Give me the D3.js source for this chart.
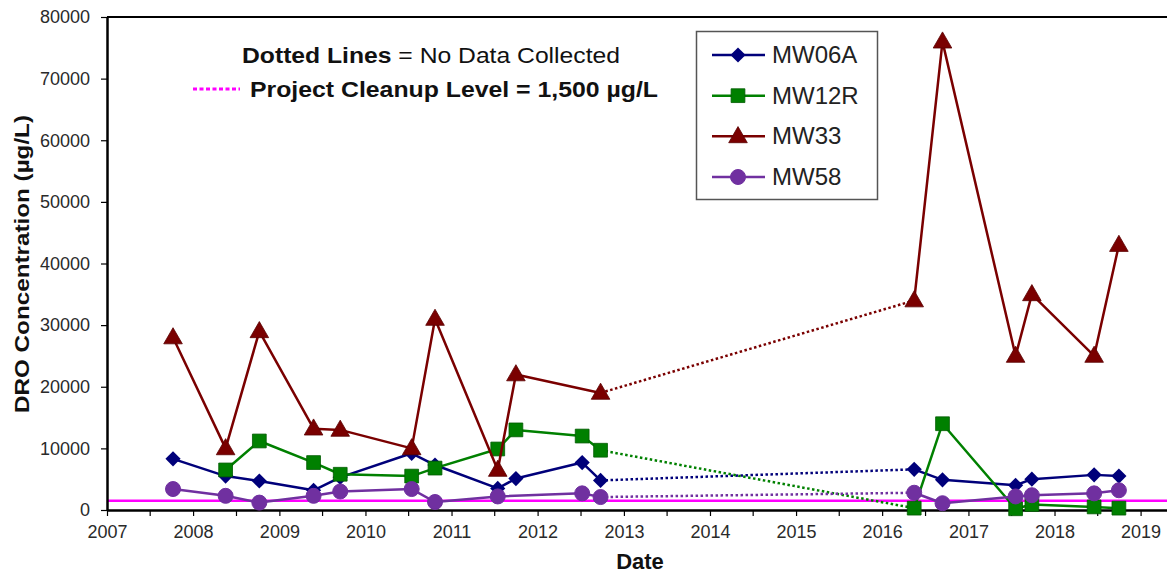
<!DOCTYPE html>
<html>
<head>
<meta charset="utf-8">
<script src="https://cdn.jsdelivr.net/npm/d3@7"></script>
<style>
  body { margin: 0; background: #fff; }
  svg { font-family: "Liberation Sans", Arial, sans-serif; }
  .axis text { fill: #2a2a2a; }
  .axis path, .axis line { stroke: #000; }
</style>
</head>
<body>
<div id="chart"></div>
<script>
// sample dates
const sampleDates = [
    "2007-10-08", "2008-05-18", "2008-10-08", "2009-05-26", "2009-09-16",
    "2010-07-16", "2010-10-23", "2011-07-16", "2011-10-01", "2012-07-08",
    "2012-09-24", "2016-05-16", "2016-09-13", "2017-07-20", "2017-09-27",
    "2018-06-18", "2018-10-01"
];

// DRO concentration, ug/L (null = no sample)
const mw06a = [8300, 5500, 4700, 3200, 5300, 9200, 7300, 3500, 5100, 7700, 4800, 6600, 4900, 4000, 5000, 5700, 5500];
const mw12r = [null, 6500, 11200, 7700, 5800, 5500, 6800, 9900, 13000, 12000, 9700, 300, 14000, 200, 900, 500, 300];
const mw33 = [28000, 10000, 29000, 13200, 13000, 10000, 31000, 6500, 22000, null, 19000, 34000, 76000, 25000, 35000, 25000, 43000];
const mw58 = [3400, 2300, 1200, 2300, 3000, 3400, 1300, 2200, null, 2700, 2100, 2800, 1100, 2200, 2400, 2700, 3200];

const seriesNames = ["MW06A", "MW12R", "MW33", "MW58"];
const noDataGap = ["2012-09-24", "2016-05-16"];
const cleanupLevel = 1500;

const yTicks = [0, 10000, 20000, 30000, 40000, 50000, 60000, 70000, 80000];
const xTickYears = [2007, 2008, 2009, 2010, 2011, 2012, 2013, 2014, 2015, 2016, 2017, 2018, 2019];

const parseDate = d3.timeParse("%Y-%m-%d");

const styles = {
    MW06A: { color: "#00007a", symbol: "diamond" },
    MW12R: { color: "#008000", symbol: "square" },
    MW33: { color: "#7a0000", symbol: "triangle" },
    MW58: { color: "#7030a0", symbol: "circle" }
};

const W = 1167, H = 574;
const margin = { top: 17, right: 0, bottom: 64, left: 107 };

const svg = d3.select("#chart").append("svg")
    .attr("width", W)
    .attr("height", H);

const x = d3.scaleTime()
    .domain([parseDate("2007-01-01"), parseDate("2019-04-23")])
    .range([margin.left, W - margin.right]);

const y = d3.scaleLinear()
    .domain([0, 80000])
    .range([H - margin.bottom, margin.top]);

// cleanup level line goes under everything
svg.append("line")
    .attr("x1", margin.left)
    .attr("x2", W)
    .attr("y1", y(cleanupLevel))
    .attr("y2", y(cleanupLevel))
    .attr("stroke", "#ff00ff")
    .attr("stroke-width", 2.5);

// top frame line
svg.append("line")
    .attr("x1", margin.left)
    .attr("x2", W)
    .attr("y1", margin.top)
    .attr("y2", margin.top)
    .attr("stroke", "#000")
    .attr("stroke-width", 2.2);

// y axis
const yAxis = d3.axisLeft(y)
    .tickValues(yTicks)
    .tickFormat(d3.format("d"))
    .tickSize(6)
    .tickPadding(11)
    .tickSizeOuter(0);

svg.append("g")
    .attr("class", "axis y-axis")
    .attr("transform", `translate(${margin.left},0)`)
    .call(yAxis)
    .call(g => g.select(".domain").attr("stroke-width", 2.5))
    .call(g => g.selectAll("line").attr("stroke-width", 1.2))
    .call(g => g.selectAll("text").attr("font-size", 18));

// x axis - ticks every half year, labels on the year
const halfYears = [];
xTickYears.forEach(yr => {
    halfYears.push(new Date(yr, 0, 1));
    if (yr < 2019) halfYears.push(new Date(yr, 6, 1));
});

const xAxis = d3.axisBottom(x)
    .tickValues(halfYears)
    .tickSize(6)
    .tickPadding(9)
    .tickSizeOuter(0)
    .tickFormat(d => d.getMonth() === 0 ? d.getFullYear() : "");

svg.append("g")
    .attr("class", "axis x-axis")
    .attr("transform", `translate(0,${H - margin.bottom})`)
    .call(xAxis)
    .call(g => g.select(".domain").attr("stroke-width", 2.5))
    .call(g => g.selectAll("line").attr("stroke-width", 1.2))
    .call(g => g.selectAll("text").attr("font-size", 18));

// axis titles
svg.append("text")
    .attr("transform", `translate(29,264) rotate(-90)`)
    .attr("text-anchor", "middle")
    .attr("font-size", 21)
    .attr("font-weight", "bold")
    .attr("fill", "#111")
    .attr("textLength", 298)
    .attr("lengthAdjust", "spacingAndGlyphs")
    .text("DRO Concentration  (\u00b5g/L)");

svg.append("text")
    .attr("x", 640)
    .attr("y", 569)
    .attr("text-anchor", "middle")
    .attr("font-size", 22)
    .attr("font-weight", "bold")
    .attr("fill", "#111")
    .text("Date");

// marker helper
function marker(sel, kind, color) {
    if (kind === "circle") {
        sel.append("circle").attr("r", 7.5).attr("fill", color).attr("stroke", color);
    } else if (kind === "square") {
        sel.append("path").attr("d", d3.symbol(d3.symbolSquare, 190)())
            .attr("fill", color).attr("stroke", "#005a00").attr("stroke-width", 0.8);
    } else if (kind === "diamond") {
        sel.append("path").attr("d", d3.symbol(d3.symbolSquare, 115)())
            .attr("transform", "rotate(45)")
            .attr("fill", color);
    } else {
        sel.append("path").attr("d", d3.symbol(d3.symbolTriangle, 150)())
            .attr("transform", "translate(0,1)")
            .attr("fill", color).attr("stroke", "#5a0000").attr("stroke-width", 0.8);
    }
}

const line = d3.line()
    .x(d => x(d.date))
    .y(d => y(d.value));

const gapStart = parseDate(noDataGap[0]);
const gapEnd = parseDate(noDataGap[1]);

const seriesValues = [mw06a, mw12r, mw33, mw58];

const series = seriesNames.map((name, i) => {
    const pts = sampleDates.map((d, j) => ({ date: parseDate(d), value: seriesValues[i][j] }))
        .filter(p => p.value !== null);
    const before = pts.filter(p => p.date <= gapStart);
    const after = pts.filter(p => p.date >= gapEnd);
    return {
        name: name,
        points: pts,
        before: before,
        after: after,
        bridge: [before[before.length - 1], after[0]]
    };
});

const plot = svg.append("g").attr("class", "series");

series.forEach(s => {
    const st = styles[s.name];
    const g = plot.append("g").attr("class", "line-" + s.name);

    [s.before, s.after].forEach(part => {
        g.append("path")
            .attr("d", line(part))
            .attr("fill", "none")
            .attr("stroke", st.color)
            .attr("stroke-width", 2.5)
            .attr("stroke-linejoin", "round");
    });

    g.append("path")
        .attr("d", line(s.bridge))
        .attr("fill", "none")
        .attr("stroke", st.color)
        .attr("stroke-width", 2.5)
        .attr("stroke-dasharray", "2.5,2.5");

    g.selectAll(".pt")
        .data(s.points)
        .enter().append("g")
        .attr("class", "pt")
        .attr("transform", d => `translate(${x(d.date)},${y(d.value)})`)
        .each(function() { marker(d3.select(this), st.symbol, st.color); });
});

// note text
const note = svg.append("g").attr("class", "note").attr("fill", "#111");

const line1 = note.append("text")
    .attr("x", 242)
    .attr("y", 63)
    .attr("font-size", 22)
    .attr("textLength", 378)
    .attr("lengthAdjust", "spacingAndGlyphs");
line1.append("tspan").attr("font-weight", "bold").text("Dotted Lines");
line1.append("tspan").text(" = No Data Collected");

note.append("line")
    .attr("x1", 193).attr("x2", 240)
    .attr("y1", 89).attr("y2", 89)
    .attr("stroke", "#ff00ff")
    .attr("stroke-width", 3)
    .attr("stroke-dasharray", "4,2.5");

note.append("text")
    .attr("x", 250)
    .attr("y", 97)
    .attr("font-size", 22)
    .attr("font-weight", "bold")
    .attr("textLength", 408)
    .attr("lengthAdjust", "spacingAndGlyphs")
    .text("Project Cleanup Level = 1,500 \u00b5g/L");

// legend
const legend = svg.append("g").attr("class", "legend");

legend.append("rect")
    .attr("x", 696.5)
    .attr("y", 31.5)
    .attr("width", 181)
    .attr("height", 168)
    .attr("fill", "#fff")
    .attr("stroke", "#555")
    .attr("stroke-width", 1.5);

const legendY = d3.scalePoint()
    .domain(seriesNames)
    .range([55, 177]);

seriesNames.forEach(name => {
    const st = styles[name];
    const row = legend.append("g")
        .attr("transform", `translate(0,${legendY(name)})`);

    row.append("line")
        .attr("x1", 712).attr("x2", 765)
        .attr("stroke", st.color)
        .attr("stroke-width", 2.5);

    marker(row.append("g").attr("transform", "translate(738,0)"), st.symbol, st.color);

    row.append("text")
        .attr("x", 772)
        .attr("y", 8)
        .attr("font-size", 24)
        .attr("fill", "#222")
        .text(name);
});
</script>
</body>
</html>
